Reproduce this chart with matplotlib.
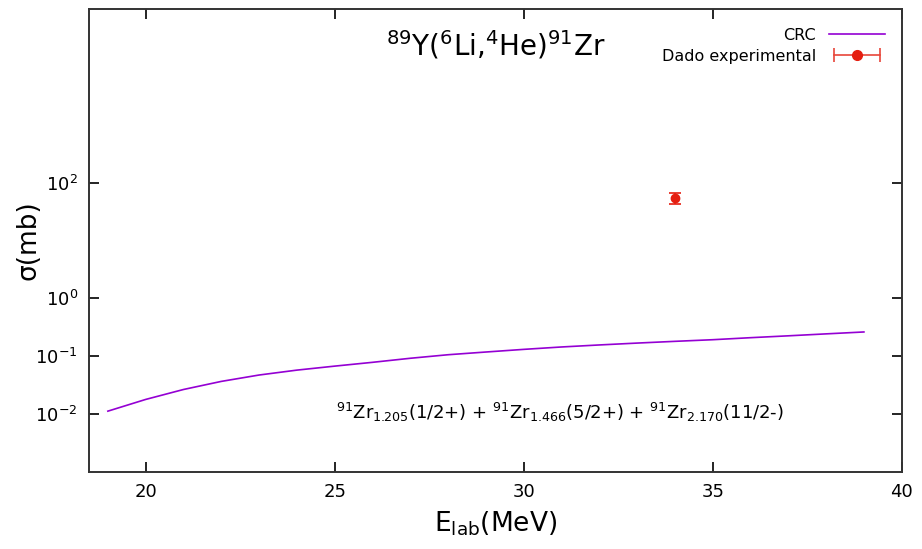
import matplotlib
matplotlib.use('Agg')
import matplotlib.pyplot as plt
from matplotlib.lines import Line2D
from matplotlib.legend_handler import HandlerLine2D, HandlerTuple
from matplotlib.ticker import FixedLocator, NullLocator

# CRC curve
e_crc = [19, 20, 21, 22, 23, 24, 25, 26, 27, 28, 29,
         30, 31, 32, 33, 34, 35, 36, 37, 38, 39]
sigma_crc = [0.0111, 0.0177, 0.0263, 0.0363, 0.0468, 0.0569, 0.0667, 0.0776,
             0.0912, 0.105, 0.117, 0.130, 0.143, 0.155, 0.167, 0.179, 0.191,
             0.207, 0.223, 0.241, 0.260]

# dado experimental
e_exp = [34.0]
sigma_exp = [55.0]
sigma_err = [12.0]

y_ticks = [1e-2, 1e-1, 1e0, 1e2]
y_labels = ['10$^{-2}$', '10$^{-1}$', '10$^{0}$', '10$^{2}$']
x_ticks = [20, 25, 30, 35, 40]

fig = plt.figure(figsize=(9.22, 5.49), dpi=100)
ax = fig.add_axes([0.0965, 0.141, 0.8815, 0.8425])

purple = '#9400d3'
red = '#e51e10'

ax.plot(e_crc, sigma_crc, color=purple, lw=1.2)
ax.errorbar(e_exp, sigma_exp, yerr=sigma_err, fmt='o', color=red, ms=6,
            capsize=4, elinewidth=1.2, capthick=1.2)

ax.set_yscale('log')
ax.set_xlim(18.5, 40)
ax.set_ylim(1e-3, 1e5)
ax.yaxis.set_major_locator(FixedLocator(y_ticks))
ax.set_yticklabels(y_labels)
ax.yaxis.set_minor_locator(NullLocator())
ax.set_xticks(x_ticks)
ax.xaxis.set_minor_locator(NullLocator())
ax.tick_params(direction='in', length=7, width=1.2, top=True, right=True,
               labelsize=13, pad=8)

for s in ax.spines.values():
    s.set_linewidth(1.4)
    s.set_color('#333333')

ax.set_xlabel('E$_{\\mathregular{lab}}$(MeV)', fontsize=19)
ax.xaxis.set_label_coords(0.5, -0.083)
ax.set_ylabel('σ(mb)', fontsize=19)
ax.yaxis.set_label_coords(-0.058, 0.5)

ax.text(0.5, 0.922, r'$^{\mathregular{89}}$Y($^{\mathregular{6}}$Li,$^{\mathregular{4}}$He)$^{\mathregular{91}}$Zr',
        transform=ax.transAxes, ha='center', va='center', fontsize=20)

ax.text(0.579, 0.127,
        r'$^{\mathregular{91}}$Zr$_{\mathregular{1.205}}$(1/2+) + '
        r'$^{\mathregular{91}}$Zr$_{\mathregular{1.466}}$(5/2+) + '
        r'$^{\mathregular{91}}$Zr$_{\mathregular{2.170}}$(11/2-)',
        transform=ax.transAxes, ha='center', va='center', fontsize=13)

# legend handles: purple line, red horizontal error bar with dot
crc_h = Line2D([], [], color=purple, lw=1.2)
cap_h = Line2D([], [], color='#e8463a', lw=1.2, marker='|', ms=10, mew=1.2)
dot_h = Line2D([], [], color=red, ls='none', marker='o', ms=7)
ax.legend([crc_h, (cap_h, dot_h)], ['CRC', 'Dado experimental'],
          loc='upper right', frameon=False, fontsize=11.5, markerfirst=False,
          handlelength=3.5, bbox_to_anchor=(0.997, 0.99), handletextpad=0.8,
          labelspacing=0.35,
          handler_map={cap_h: HandlerLine2D(numpoints=2),
                       dot_h: HandlerLine2D(numpoints=1),
                       tuple: HandlerTuple(ndivide=1)})

fig.savefig('out.png', dpi=100)
